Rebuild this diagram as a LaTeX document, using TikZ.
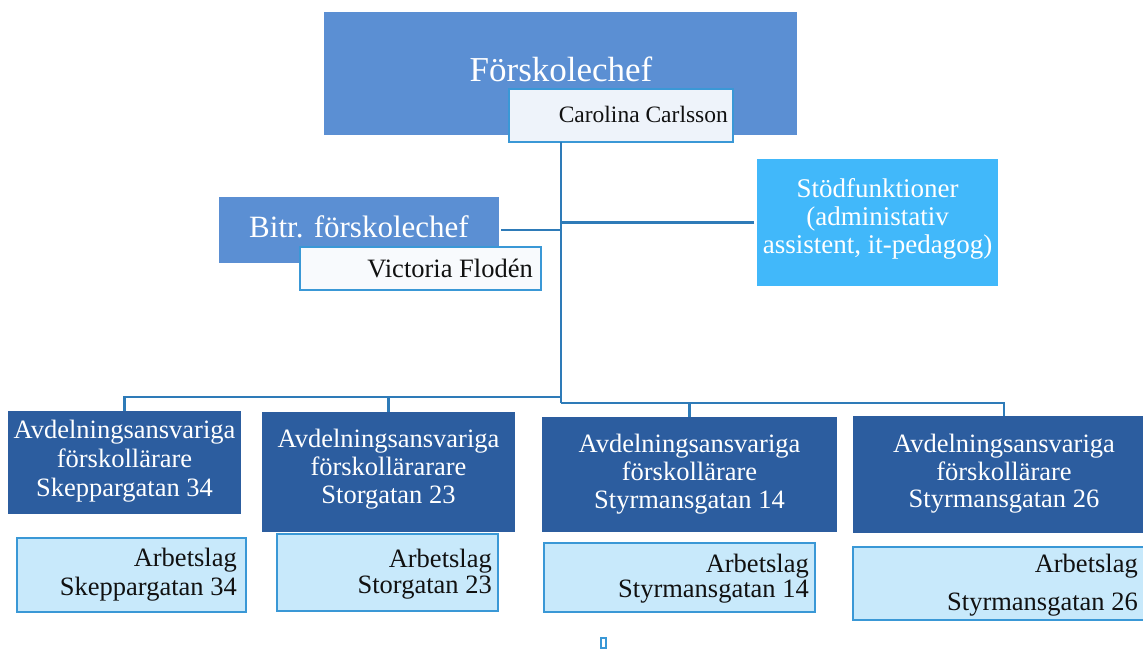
\documentclass[tikz,border=0pt]{standalone}
\usepackage{fontspec}
\setmainfont{Liberation Serif}
\definecolor{midblue}{HTML}{5B8FD3}
\definecolor{skyblue}{HTML}{41B8FA}
\definecolor{darkblue}{HTML}{2C5D9F}
\definecolor{lightfill}{HTML}{C8E9FB}
\definecolor{edgeblue}{HTML}{3A98D6}
\definecolor{linkblue}{HTML}{2E7BB8}
\definecolor{paleb}{HTML}{EEF3FA}
\definecolor{palew}{HTML}{F8FAFD}
\definecolor{inkblack}{HTML}{111111}
\begin{document}
\begin{tikzpicture}[x=1pt,y=-1pt,
  boxbase/.style={rectangle, inner sep=0pt, outer sep=0pt, anchor=north west},
  headbox/.style={boxbase, fill=midblue},
  supbox/.style={boxbase, fill=skyblue},
  avdbox/.style={boxbase, fill=darkblue},
  namebox/.style={boxbase, fill=paleb, draw=edgeblue, line width=2.4pt},
  arbbox/.style={boxbase, fill=lightfill, draw=edgeblue, line width=2.4pt},
  wtxt/.style={inner sep=0pt, anchor=base, text=white},
  btxt/.style={inner sep=0pt, anchor=base east, text=inkblack},
  link/.style={draw=linkblue, line width=2.5pt}
]
\useasboundingbox[fill=white] (0,0) rectangle (1143,650);

% top
\node[headbox, minimum width=473pt, minimum height=123pt] (fc) at (324,12) {};
\node[namebox, minimum width=224pt, minimum height=53pt] (carol) at (509,89) {};
\node[wtxt, font=\fontsize{35}{40}\selectfont] (fct) at (561,82) {Förskolechef};
\node[btxt, font=\fontsize{23.5}{28}\selectfont] (carolt) at (728,123) {Carolina Carlsson};

% bitr
\node[headbox, minimum width=280pt, minimum height=66pt] (bitr) at (219,197) {};
\node[namebox, fill=palew, minimum width=241pt, minimum height=43pt] (vict) at (300,247) {};
\node[wtxt, font=\fontsize{31}{36}\selectfont] (bitrt) at (359,237) {Bitr. förskolechef};
\node[btxt, font=\fontsize{26.5}{30}\selectfont] (victt) at (533,277) {Victoria Flodén};

% stod
\node[supbox, minimum width=241pt, minimum height=127pt] (stod) at (757,159) {};
\begin{scope}[every node/.style={wtxt, font=\fontsize{27}{30}\selectfont}]
\node (stod1) at (877.5,197) {Stödfunktioner};
\node (stod2) at (877.5,225) {(administativ};
\node (stod3) at (877.5,253) {assistent, it-pedagog)};
\end{scope}

% avd boxes
\node[avdbox, minimum width=233pt, minimum height=103pt] (avd1) at (8,411) {};
\node[avdbox, minimum width=253pt, minimum height=120pt] (avd2) at (262,412) {};
\node[avdbox, minimum width=295pt, minimum height=115pt] (avd3) at (542,417) {};
\node[avdbox, minimum width=302pt, minimum height=117pt] (avd4) at (853,416) {};
\begin{scope}[every node/.style={wtxt, font=\fontsize{26.5}{30}\selectfont}]
\node (a1l1) at (124.5,438) {Avdelningsansvariga};
\node (a1l2) at (124.5,467) {förskollärare};
\node (a1l3) at (124.5,496) {Skeppargatan 34};
\node (a2l1) at (388.5,447) {Avdelningsansvariga};
\node (a2l2) at (388.5,475) {förskollärarare};
\node (a2l3) at (388.5,503) {Storgatan 23};
\node (a3l1) at (689.5,452) {Avdelningsansvariga};
\node (a3l2) at (689.5,480) {förskollärare};
\node (a3l3) at (689.5,508) {Styrmansgatan 14};
\node (a4l1) at (1004,452) {Avdelningsansvariga};
\node (a4l2) at (1004,480) {förskollärare};
\node (a4l3) at (1004,507) {Styrmansgatan 26};
\end{scope}

% arbetslag
\node[arbbox, minimum width=229pt, minimum height=74pt] (arb1) at (17,538) {};
\node[arbbox, minimum width=221pt, minimum height=77pt] (arb2) at (277,534) {};
\node[arbbox, minimum width=271pt, minimum height=69pt] (arb3) at (544,543) {};
\node[arbbox, minimum width=297pt, minimum height=73pt] (arb4) at (853,547) {};
\begin{scope}[every node/.style={btxt, font=\fontsize{26.5}{30}\selectfont}]
\node (b1l1) at (237,566) {Arbetslag};
\node (b1l2) at (237,595) {Skeppargatan 34};
\node (b2l1) at (492,567) {Arbetslag};
\node (b2l2) at (492,593) {Storgatan 23};
\node (b3l1) at (809,572) {Arbetslag};
\node (b3l2) at (809,597) {Styrmansgatan 14};
\node (b4l1) at (1138,572) {Arbetslag};
\node (b4l2) at (1138,610) {Styrmansgatan 26};
\end{scope}

% small mark
\node[boxbase, draw=edgeblue, line width=1.5pt, minimum width=5pt, minimum height=10pt] (mark) at (601,638) {};

% connectors
\coordinate (jtop) at (561,142);
\coordinate (jbus) at (561,397);
\coordinate (jbus2) at (561,403);
\draw[link] (jtop) -- (jbus2);
\draw[link] (bitr.east) ++(2,0) -- (bitr.east -| jtop);
\draw[link] (stod.west) ++(-3,0) -- (stod.west -| jtop);
\draw[link] (avd1.north) |- (jbus);
\draw[link] (avd2.north) |- (jbus);
\draw[link] (avd3.north) |- (jbus2);
\draw[link] (avd4.north) |- (jbus2);
\end{tikzpicture}
\end{document}
